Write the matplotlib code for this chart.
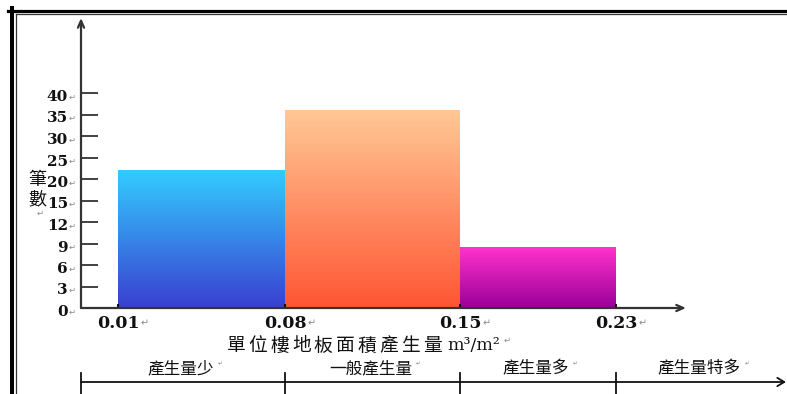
import numpy as np
import matplotlib
matplotlib.use("Agg")
import matplotlib.pyplot as plt
from matplotlib import transforms as mtransforms
from matplotlib.transforms import Bbox, TransformedBbox, BboxTransformTo
from matplotlib.colors import LinearSegmentedColormap
from matplotlib.lines import Line2D

# ---- data -------------------------------------------------------------
bin_edges = [0.01, 0.08, 0.15, 0.23]
counts = [22, 36, 8.5]
y_ticks = [0, 3, 6, 9, 12, 15, 20, 25, 30, 35, 40]
x_tick_labels = ["0.01", "0.08", "0.15", "0.23"]
categories = ["產生量少", "一般產生量", "產生量多", "產生量特多"]
x_title = "單位樓地板面積產生量"
x_unit = "m³/m²"
y_title = ["筆", "數"]
# (bottom, top) colours of each bar's vertical gradient
bar_gradients = [("#3a3fd0", "#33ccff"), ("#ff5533", "#ffc896"), ("#990099", "#ff33cc")]

# ---- figure -----------------------------------------------------------
W, H = 787, 394
fig = plt.figure(figsize=(W / 100, H / 100), dpi=100)
fig.patch.set_facecolor("white")

CJK = ["Noto Sans CJK TC", "DejaVu Sans"]
NUM = "DejaVu Serif"
MARK = "#8a8a8a"


def fx(x):
    return x / W


def fy(y):
    return 1 - y / H


ax = fig.add_axes([fx(81), fy(308), (686 - 81) / W, (308 - 18) / H])
ax.set_facecolor("none")

# piecewise-linear axes: equal spacing between the listed ticks
y_knots = [0, 3, 6, 9, 12, 15, 20, 25, 30, 35, 40, 60]
y_pos = list(range(11)) + [14]
ax.set_yscale("function",
              functions=(lambda v: np.interp(v, y_knots, y_pos),
                         lambda i: np.interp(i, y_pos, y_knots)))
x_knots = [0.0, 0.01, 0.08, 0.15, 0.23, 0.30]
x_pos = [0, 37, 204, 379, 535, 605]
ax.set_xscale("function",
              functions=(lambda v: np.interp(v, x_knots, x_pos),
                         lambda p: np.interp(p, x_pos, x_knots)))

# ---- bars with vertical gradient fill ---------------------------------
widths = np.diff(bin_edges)
bars = ax.bar(bin_edges[:-1], counts, width=widths, align="edge",
              color="none", edgecolor="none")
grad = np.linspace(0, 1, 256).reshape(-1, 1)
for rect, (c0, c1) in zip(bars, bar_gradients):
    x0, y0 = rect.get_x(), rect.get_y()
    x1, y1 = x0 + rect.get_width(), y0 + rect.get_height()
    box = TransformedBbox(Bbox.from_extents(x0, y0, x1, y1), ax.transData)
    cmap = LinearSegmentedColormap.from_list("g", [c0, c1])
    ax.imshow(grad, cmap=cmap, extent=(0, 1, 0, 1), origin="lower",
              aspect="auto", interpolation="bilinear",
              transform=BboxTransformTo(box), zorder=1)

ax.set_xlim(0.0, 0.30)
ax.set_ylim(0, np.interp((308 - 18) / 21.5, y_pos, y_knots))

# ---- axes, ticks ------------------------------------------------------
for s in ax.spines.values():
    s.set_visible(False)
ax.set_yticks(y_ticks)
ax.set_xticks(bin_edges)
ax.tick_params(axis="y", direction="in", length=12, width=1.3,
               color="#333333", labelleft=False)
ax.tick_params(axis="x", direction="in", length=3, width=1.3,
               color="black", labelbottom=False)
ax.minorticks_off()

arrow_kw = dict(arrowstyle="->,head_length=0.5,head_width=0.22", lw=1.6,
                color="#333333", shrinkA=0, shrinkB=0)
ax.annotate("", xy=(0, 1), xytext=(0, 0), xycoords="axes fraction",
            arrowprops=arrow_kw, annotation_clip=False)
ax.annotate("", xy=(1, 0), xytext=(0, 0), xycoords="axes fraction",
            arrowprops=arrow_kw, annotation_clip=False)

# y tick labels
ylab_tr = mtransforms.blended_transform_factory(fig.transFigure, ax.transData) + \
    mtransforms.ScaledTranslation(0, -4 / 100, fig.dpi_scale_trans)
for v in y_ticks:
    ax.text(fx(68), v, str(v), transform=ylab_tr, ha="right", va="center",
            family=NUM, weight="bold", fontsize=11, color="#111111")
    ax.text(fx(69), v, "↵", transform=ylab_tr, ha="left", va="center",
            family="DejaVu Sans", fontsize=6, color=MARK)

# x tick labels
xlab_tr = mtransforms.blended_transform_factory(ax.transData, fig.transFigure)
mark_off = mtransforms.ScaledTranslation(0.27, 0, fig.dpi_scale_trans)
for x, lab in zip(bin_edges, x_tick_labels):
    ax.text(x, fy(323), lab, transform=xlab_tr, ha="center", va="center",
            family=NUM, weight="bold", fontsize=12.5, color="#111111")
    ax.text(x, fy(323), "↵", transform=xlab_tr + mark_off, ha="center",
            va="center", family="DejaVu Sans", fontsize=7, color=MARK)

# y title, stacked
fig.text(fx(37), fy(180), y_title[0], ha="center", va="center",
         family=CJK, fontsize=13, color="#111111")
fig.text(fx(37), fy(199), y_title[1], ha="center", va="center",
         family=CJK, fontsize=13, color="#111111")
fig.text(fx(40), fy(213), "↵", ha="center", va="center",
         family="DejaVu Sans", fontsize=6, color=MARK)

# x title, spaced characters followed by the unit
for i, ch in enumerate(x_title):
    fig.text(fx(236 + 21.8 * i), fy(346), ch, ha="center", va="center",
             family=CJK, fontsize=13.5, color="#111111")
fig.text(fx(447), fy(346), x_unit, ha="left", va="center",
         family=NUM, fontsize=12.5, color="#111111")
fig.text(fx(504), fy(340), "↵", ha="left", va="center",
         family="DejaVu Sans", fontsize=6, color=MARK)

# ---- category scale under the axis ------------------------------------
fig.canvas.draw()
div_x = [0.0] + bin_edges[1:]
div_px = [ax.transData.transform((x, 1))[0] for x in div_x]
for p in div_px:
    fig.add_artist(Line2D([p / W, p / W], [fy(373), 0], lw=1.3,
                          color="#111111", transform=fig.transFigure))
fig.add_artist(matplotlib.patches.FancyArrowPatch(
    (div_px[0] / W, fy(382)), (fx(786), fy(382)), transform=fig.transFigure,
    arrowstyle="->,head_length=5,head_width=3", lw=1.3, color="#111111",
    shrinkA=0, shrinkB=0, mutation_scale=1))
bounds = div_px + [W]
for (a, b), lab in zip(zip(bounds[:-1], bounds[1:]), categories):
    c = (a + b) / 2 - 2
    fig.text(c / W, fy(369), lab, ha="center", va="center",
             family=CJK, fontsize=12, color="#111111")
    fig.text((c + len(lab) * 8.5 + 5) / W, fy(364), "↵", ha="center",
             va="center", family="DejaVu Sans", fontsize=4, color=MARK)

# ---- double frame line along top and left -----------------------------
fig.add_artist(Line2D([fx(8), 1], [fy(10.5), fy(10.5)], lw=2.3,
                      color="black", transform=fig.transFigure))
fig.add_artist(Line2D([fx(12), fx(12)], [fy(8), 0], lw=2.9,
                      color="black", transform=fig.transFigure))
fig.add_artist(Line2D([fx(15.5), 1], [fy(14), fy(14)], lw=0.9,
                      color="#333333", transform=fig.transFigure))
fig.add_artist(Line2D([fx(15.5), fx(15.5)], [fy(14), 0], lw=0.9,
                      color="#333333", transform=fig.transFigure))

fig.savefig("out.png", dpi=100, facecolor="white")
